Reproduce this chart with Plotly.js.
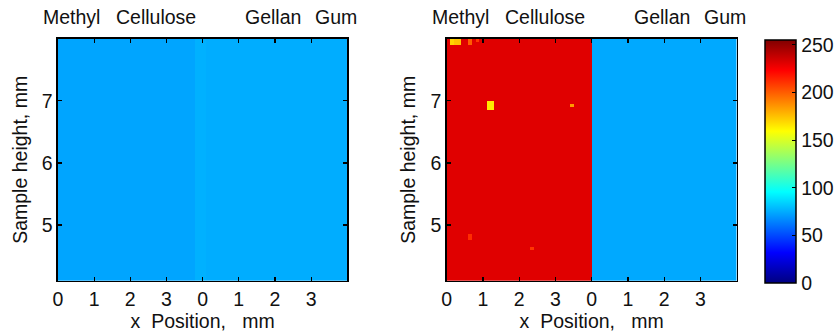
<!DOCTYPE html>
<html>
<head>
<meta charset="utf-8">
<script src="https://cdn.plot.ly/plotly-3.0.1.min.js"></script>
<style>
html,body{margin:0;padding:0;background:#fff;}
#chart{width:834px;height:335px;}
</style>
</head>
<body>
<div id="chart"></div>
<script>
// ---- data ----
const xTickVals = [0, 1, 2, 3, 4, 5, 6, 7];
const xTickText = ['0', '1', '2', '3', '0', '1', '2', '3'];
const yTickVals = [5, 6, 7];
const cbTickVals = [0, 50, 100, 150, 200, 250];
const sampleLabels = ['Methyl', 'Cellulose', 'Gellan', 'Gum'];
const sampleLabelPos = [0.38, 2.72, 5.94, 7.68];

// left image: intensity bands along x (mm)
const leftBandEdges = [0, 3.8, 4.1, 8];
const leftBandValues = [73, 76, 75];

// right image: intensity bands along x (mm)
const rightBandEdges = [0, 4.0, 4.05, 8];
const rightBandValues = [231, 86, 74];

// bright spots in the right image
const spotX = [1.2, 3.45, 0.12, 0.3, 0.62, 0.85, 0.7, 2.35];
const spotY = [6.92, 6.93, 7.97, 7.97, 7.95, 7.97, 4.8, 4.62];
const spotR = [0.08, 0.04, 0.06, 0.06, 0.03, 0.03, 0.03, 0.03];
const spotVal = [165, 185, 170, 175, 200, 210, 212, 210];

// ---- grid built from the values above ----
const dx = 0.1, dy = 0.05, x0 = 0.05, y0 = 4.125;
const nx = 80, ny = 78;

function bandValue(edges, vals, x) {
  for (let i = 0; i < vals.length; i++) {
    if (x >= edges[i] && x < edges[i + 1]) return vals[i];
  }
  return vals[vals.length - 1];
}

const zLeft = [], zRight = [];
for (let j = 0; j < ny; j++) {
  const y = y0 + j * dy;
  const rowL = [], rowR = [];
  for (let i = 0; i < nx; i++) {
    const x = x0 + i * dx;
    rowL.push(bandValue(leftBandEdges, leftBandValues, x));
    let v = bandValue(rightBandEdges, rightBandValues, x);
    for (let k = 0; k < spotX.length; k++) {
      const ddx = Math.abs(x - spotX[k]), ddy = Math.abs(y - spotY[k]);
      if (ddx <= Math.max(spotR[k], dx / 2) && ddy <= Math.max(spotR[k], dy / 2)) v = spotVal[k];
    }
    rowR.push(v);
  }
  zLeft.push(rowL);
  zRight.push(rowR);
}

const jet = [
  [0, 'rgb(0,0,128)'],
  [0.125, 'rgb(0,0,255)'],
  [0.375, 'rgb(0,255,255)'],
  [0.625, 'rgb(255,255,0)'],
  [0.875, 'rgb(255,0,0)'],
  [1, 'rgb(128,0,0)']
];

const font = {family: 'Liberation Sans, Arial, sans-serif', size: 19.5, color: '#111'};

const traces = [
  {type: 'heatmap', z: zLeft, x0: x0, dx: dx, y0: y0, dy: dy, coloraxis: 'coloraxis', xaxis: 'x', yaxis: 'y', hoverinfo: 'skip'},
  {type: 'heatmap', z: zRight, x0: x0, dx: dx, y0: y0, dy: dy, coloraxis: 'coloraxis', xaxis: 'x2', yaxis: 'y2', hoverinfo: 'skip'}
];

function xAxis(domain, anchor) {
  return {
    domain: domain, anchor: anchor, range: [0, 8], automargin: false,
    tickmode: 'array', tickvals: xTickVals, ticktext: xTickText,
    ticks: 'inside', ticklen: 4, tickwidth: 1.2, tickcolor: '#000',
    showline: true, linecolor: '#000', linewidth: 1.5, mirror: 'ticks',
    showgrid: false, zeroline: false, tickfont: font,
    title: {text: 'x\u00a0\u00a0Position,\u00a0\u00a0\u00a0mm', font: font, standoff: 2}
  };
}
function yAxis(domain, anchor) {
  return {
    domain: domain, anchor: anchor, range: [4.1, 8], automargin: false,
    tickmode: 'array', tickvals: yTickVals,
    ticks: 'inside', ticklen: 4, tickwidth: 1.2, tickcolor: '#000',
    showline: true, linecolor: '#000', linewidth: 1.5, mirror: 'ticks',
    showgrid: false, zeroline: false, tickfont: font,
    title: {text: 'Sample height, mm', font: font, standoff: 9}
  };
}

const annotations = [];
['x', 'x2'].forEach(function (xr) {
  sampleLabels.forEach(function (t, i) {
    annotations.push({text: t, x: sampleLabelPos[i], xref: xr, y: 0.949, yref: 'paper',
      xanchor: 'center', yanchor: 'middle', showarrow: false, font: font});
  });
});

const layout = {
  width: 834, height: 335,
  margin: {l: 0, r: 0, t: 0, b: 0, autoexpand: false},
  paper_bgcolor: '#fff', plot_bgcolor: '#fff',
  showlegend: false,
  font: font,
  xaxis: xAxis([0.0695, 0.4164], 'y'),
  yaxis: yAxis([0.1612, 0.8845], 'x'),
  xaxis2: xAxis([0.5356, 0.8833], 'y2'),
  yaxis2: yAxis([0.1612, 0.8845], 'x2'),
  coloraxis: {
    cmin: 0, cmax: 255, colorscale: jet,
    colorbar: {
      x: 0.9173, xanchor: 'left', xpad: 0, ypad: 0,
      y: 0.518, yanchor: 'middle',
      thickness: 31, thicknessmode: 'pixels',
      len: 243, lenmode: 'pixels',
      outlinecolor: '#000', outlinewidth: 1.5,
      tickmode: 'array', tickvals: cbTickVals,
      ticks: 'inside', ticklen: 4, tickcolor: '#000',
      tickfont: font
    }
  },
  annotations: annotations
};

Plotly.newPlot('chart', traces, layout, {staticPlot: true, displayModeBar: false});
</script>
</body>
</html>
